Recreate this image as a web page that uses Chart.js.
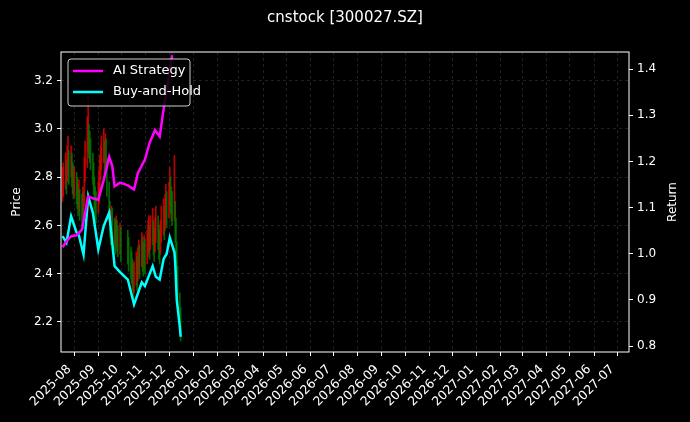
<!DOCTYPE html>
<html>
<head>
<meta charset="utf-8">
<script src="https://cdn.jsdelivr.net/npm/chart.js@4.4.1/dist/chart.umd.min.js"></script>
<style>
  html, body { margin: 0; padding: 0; background: #000; }
  #wrap { width: 690px; height: 422px; }
</style>
</head>
<body>
<div id="wrap"><canvas id="grafico"></canvas></div>
<script>
// Dias de cotizacion (sin fines de semana ni feriado de octubre)
const inicio = '2025-07-17', fin = '2025-12-16';
const feriados = ['2025-10-01', '2025-10-02', '2025-10-03', '2025-10-06', '2025-10-07', '2025-10-08'];

// Velas: cierre, maximo y minimo de cada dia
const cierres = [
  2.76,2.79,2.82,2.80,2.85,2.88,2.84,2.87,2.83,2.80,2.78,2.79,
  2.76,2.74,2.71,2.73,2.69,2.67,2.70,2.66,2.78,2.86,2.92,
  2.99,2.95,2.93,2.90,2.84,2.80,2.74,2.70,2.68,
  2.72,2.76,2.82,2.86,2.90,2.93,2.88,2.91,2.90,2.80,2.70,2.62,
  2.59,2.62,2.60,2.57,2.55,2.58,2.56,2.54,2.55,2.52,
  2.51,2.48,2.45,2.43,2.40,2.37,2.39,2.42,2.40,2.44,2.47,2.45,2.50,2.48,2.46,2.49,2.47,
  2.51,2.54,2.56,2.53,2.57,2.59,2.55,2.52,2.56,2.60,2.57,2.53,2.51,2.55,2.60,2.63,2.61,2.65,2.68,2.66,
  2.70,2.75,2.72,2.69,2.67,2.70,2.62,2.55,2.45,2.35,2.24,2.18
];
const maximos = [
  2.84,2.86,2.90,2.87,2.93,2.97,2.91,2.93,2.90,2.86,2.85,2.84,
  2.82,2.80,2.77,2.79,2.75,2.73,2.76,2.74,2.88,2.95,3.05,
  3.14,3.02,2.99,2.96,2.90,2.86,2.80,2.76,2.74,
  2.78,2.83,2.89,2.93,2.97,3.00,2.95,2.98,2.96,2.88,2.78,2.70,
  2.66,2.68,2.67,2.63,2.62,2.64,2.62,2.60,2.61,2.59,
  2.58,2.55,2.51,2.49,2.46,2.44,2.45,2.49,2.47,2.51,2.54,2.52,2.57,2.55,2.53,2.56,2.54,
  2.58,2.62,2.64,2.60,2.64,2.67,2.62,2.59,2.63,2.68,2.64,2.60,2.58,2.62,2.68,2.71,2.68,2.73,2.77,2.74,
  2.78,2.84,2.80,2.76,2.74,2.89,2.70,2.63,2.53,2.43,2.32,2.26
];
const minimos = [
  2.70,2.72,2.75,2.73,2.78,2.81,2.77,2.80,2.76,2.73,2.71,2.72,
  2.69,2.67,2.64,2.66,2.62,2.60,2.63,2.59,2.68,2.78,2.84,
  2.90,2.88,2.86,2.83,2.77,2.73,2.67,2.63,2.61,
  2.65,2.69,2.75,2.79,2.83,2.86,2.81,2.84,2.83,2.72,2.62,2.55,
  2.52,2.55,2.53,2.50,2.48,2.51,2.49,2.47,2.48,2.45,
  2.44,2.41,2.38,2.36,2.33,2.30,2.32,2.35,2.33,2.37,2.40,2.38,2.43,2.41,2.39,2.42,2.40,
  2.44,2.47,2.49,2.46,2.50,2.52,2.48,2.45,2.49,2.53,2.50,2.46,2.44,2.48,2.53,2.56,2.54,2.58,2.61,2.59,
  2.63,2.68,2.65,2.62,2.60,2.62,2.53,2.46,2.36,2.26,2.17,2.12
];

// Lineas de rendimiento (eje derecho)
const fechasBH = ['2025-07-17','2025-07-22','2025-07-28','2025-08-04','2025-08-07','2025-08-13','2025-08-19','2025-08-25',
  '2025-09-01','2025-09-08','2025-09-15','2025-09-22','2025-09-29','2025-10-09','2025-10-17','2025-10-27','2025-10-31',
  '2025-11-10','2025-11-14','2025-11-19','2025-11-24','2025-11-28','2025-12-02','2025-12-08','2025-12-09','2025-12-11',
  '2025-12-15','2025-12-16'];
const buyHold = [1.038,1.024,1.081,1.046,1.040,0.998,1.124,1.089,
  1.009,1.060,1.089,0.973,0.960,0.944,0.890,0.938,0.930,
  0.973,0.950,0.944,0.988,1.000,1.035,1.003,0.980,0.900,
  0.840,0.820];
const fechasAI = ['2025-07-17','2025-07-22','2025-07-28','2025-08-04','2025-08-11','2025-08-19','2025-08-25','2025-09-01',
  '2025-09-08','2025-09-15','2025-09-19','2025-09-22','2025-09-29','2025-10-09','2025-10-17','2025-10-22','2025-10-31',
  '2025-11-06','2025-11-13','2025-11-19','2025-11-24','2025-12-02','2025-12-05'];
const aiStrategy = [1.014,1.027,1.038,1.040,1.052,1.124,1.120,1.117,
  1.160,1.210,1.190,1.146,1.154,1.148,1.139,1.175,1.204,
  1.240,1.268,1.254,1.312,1.398,1.430];

const ticksPrecio = [2.2, 2.4, 2.6, 2.8, 3.0, 3.2];
const ticksRetorno = [0.8, 0.9, 1.0, 1.1, 1.2, 1.3, 1.4];

const ms = s => Date.parse(s + 'T00:00:00Z');

// Lista de dias de cotizacion
const dias = [];
for (let t = ms(inicio); t <= ms(fin); t += 86400000) {
    const d = new Date(t), w = d.getUTCDay();
    const iso = d.toISOString().slice(0, 10);
    if (w !== 0 && w !== 6 && !feriados.includes(iso)) dias.push(t);
}

// Ticks mensuales del eje X: 2025-08 ... 2027-07
const meses = [];
for (let k = 0; k < 24; k++) meses.push(Date.UTC(2025, 7 + k, 1));

const velas = dias.map((t, i) => ({ x: t, y: [minimos[i], maximos[i]] }));
const coloresVelas = cierres.map((c, i) => (i === 0 || c >= cierres[i - 1]) ? 'rgba(220,0,0,0.85)' : 'rgba(0,120,0,0.85)');

const rejilla = { color: 'rgba(120,120,120,0.45)', lineWidth: 0.6, tickColor: '#fff', tickLength: 4, tickBorderDash: [], tickWidth: 1 };
const borde = { display: false, dash: [3, 3] };
const fuente = { family: 'DejaVu Sans', size: 12 };

// Marco, titulo y leyenda al estilo matplotlib
const extras = {
    id: 'extras',
    afterDraw(c) {
        const ctx = c.ctx, a = c.chartArea;
        ctx.save();
        ctx.strokeStyle = '#fff'; ctx.lineWidth = 1;
        ctx.strokeRect(a.left, a.top, a.right - a.left, a.bottom - a.top);
        ctx.fillStyle = '#fff';
        ctx.font = '15px DejaVu Sans';
        ctx.textAlign = 'center'; ctx.textBaseline = 'middle';
        ctx.fillText('cnstock [300027.SZ]', 345, 18);
        // titulos de los ejes
        ctx.font = '12px DejaVu Sans';
        [[17, 'Price'], [673, 'Return']].forEach(([x, t]) => {
            ctx.save();
            ctx.translate(x, (a.top + a.bottom) / 2);
            ctx.rotate(-Math.PI / 2);
            ctx.fillText(t, 0, 0);
            ctx.restore();
        });
        // leyenda
        ctx.fillStyle = 'rgba(0,0,0,0.85)';
        ctx.strokeStyle = '#ccc';
        ctx.beginPath(); ctx.roundRect(68, 59, 122, 47, 3); ctx.fill(); ctx.stroke();
        ctx.lineWidth = 2.5;
        [['AI Strategy', '#ff00ff', 71], ['Buy-and-Hold', '#00ffff', 92]].forEach(([t, col, y]) => {
            ctx.strokeStyle = col;
            ctx.beginPath(); ctx.moveTo(73, y); ctx.lineTo(103, y); ctx.stroke();
            ctx.fillStyle = '#fff'; ctx.font = '13px DejaVu Sans'; ctx.textAlign = 'left';
            ctx.fillText(t, 113, y);
        });
        ctx.restore();
    }
};

new Chart(document.getElementById('grafico'), {
    type: 'bar',
    data: {
        datasets: [
            { type: 'line', label: 'AI Strategy', data: fechasAI.map((f, i) => ({ x: ms(f), y: aiStrategy[i] })),
              borderColor: '#ff00ff', borderWidth: 2.5, pointRadius: 0, yAxisID: 'y2', order: 1 },
            { type: 'line', label: 'Buy-and-Hold', data: fechasBH.map((f, i) => ({ x: ms(f), y: buyHold[i] })),
              borderColor: '#00ffff', borderWidth: 2.5, pointRadius: 0, yAxisID: 'y2', order: 1 },
            { label: 'velas', data: velas, backgroundColor: coloresVelas, barThickness: 1, yAxisID: 'y', order: 2 }
        ]
    },
    options: {
        responsive: true,
        maintainAspectRatio: false,
        animation: false,
        layout: { padding: { top: 52, left: 0, right: 0, bottom: 0 } },
        plugins: { legend: { display: false }, tooltip: { enabled: false } },
        scales: {
            x: {
                type: 'linear', offset: false, min: ms('2025-07-15'), max: ms('2027-07-16'),
                afterBuildTicks: s => { s.ticks = meses.map(v => ({ value: v })); },
                afterFit: s => { s.height = 70; },
                grid: { ...rejilla, offset: false }, border: borde,
                ticks: { color: '#fff', font: { family: 'DejaVu Sans', size: 12.5 }, maxRotation: 45, minRotation: 45,
                    autoSkip: false, padding: 6, labelOffset: -5, callback: v => new Date(v).toISOString().slice(0, 7) }
            },
            y: {
                position: 'left', min: 2.075, max: 3.319,
                afterBuildTicks: s => { s.ticks = ticksPrecio.map(v => ({ value: v })); },
                afterFit: s => { s.width = 61; },
                grid: rejilla, border: borde,
                ticks: { color: '#fff', font: fuente, padding: 4, callback: v => v.toFixed(1) }
            },
            y2: {
                position: 'right', min: 0.787, max: 1.437,
                afterBuildTicks: s => { s.ticks = ticksRetorno.map(v => ({ value: v })); },
                afterFit: s => { s.width = 61; },
                grid: { drawOnChartArea: false, tickColor: '#fff', tickLength: 4 }, border: { display: false },
                ticks: { color: '#fff', font: fuente, padding: 4, callback: v => v.toFixed(1) }
            }
        }
    },
    plugins: [extras]
});
</script>
</body>
</html>
